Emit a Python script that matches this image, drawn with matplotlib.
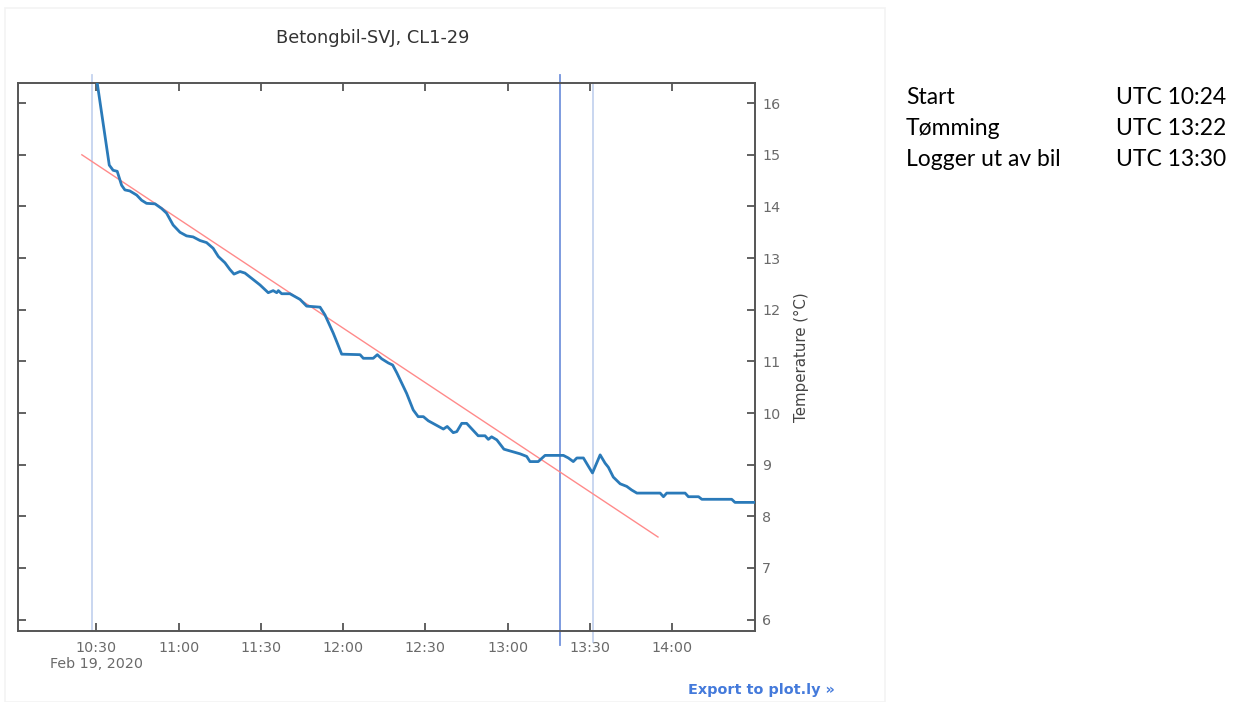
from datetime import datetime, timedelta
import matplotlib
matplotlib.use("Agg")
import matplotlib.pyplot as plt
from matplotlib.patches import Rectangle

day = datetime(2020, 2, 19, 10, 0)

# logger readings, minutes after 10:00 UTC
minutes = [30.0, 34.7, 36.1, 37.6, 39.2, 40.4, 42.2, 44.7, 46.5, 48.3, 51.4, 53.8,
           55.6, 58.0, 60.5, 62.9, 65.3, 67.8, 70.2, 72.6, 74.5, 76.9, 78.7, 80.2,
           82.4, 84.2, 86.6, 89.7, 92.7, 94.5, 95.8, 96.4, 97.6, 100.6, 104.3, 106.7,
           111.6, 113.4, 116.4, 117.7, 119.5, 126.2, 127.4, 131.0, 132.5, 134.1, 136.5,
           138.1, 139.6, 143.2, 145.6, 147.4, 149.3, 151.1, 156.6, 158.0, 160.2, 161.5,
           163.3, 165.1, 169.3, 171.8, 173.0, 174.2, 176.1, 178.7, 184.6, 187.0, 188.2,
           191.2, 193.7, 200.4, 202.2, 204.0, 205.3, 207.7, 209.5, 211.0, 213.8, 215.6,
           216.8, 218.6, 221.1, 223.5, 225.3, 227.2, 235.7, 236.9, 238.1, 244.8, 246.0,
           249.7, 250.9, 261.8, 263.0, 270.5]
temperature = [16.5, 14.80, 14.70, 14.68, 14.41, 14.32, 14.30, 14.22, 14.12, 14.06, 14.05, 13.96,
               13.87, 13.64, 13.50, 13.43, 13.41, 13.34, 13.30, 13.19, 13.03, 12.91, 12.78, 12.69,
               12.74, 12.71, 12.61, 12.48, 12.33, 12.37, 12.33, 12.37, 12.31, 12.31, 12.20, 12.07,
               12.05, 11.90, 11.55, 11.38, 11.14, 11.13, 11.06, 11.06, 11.13, 11.05, 10.97,
               10.93, 10.78, 10.38, 10.06, 9.93, 9.93, 9.85, 9.69, 9.74, 9.62, 9.64,
               9.80, 9.80, 9.56, 9.56, 9.49, 9.54, 9.48, 9.30, 9.21, 9.16, 9.06,
               9.06, 9.18, 9.18, 9.13, 9.06, 9.13, 9.13, 8.97, 8.84, 9.19, 9.03,
               8.95, 8.76, 8.63, 8.58, 8.51, 8.45, 8.45, 8.38, 8.45, 8.45, 8.38,
               8.38, 8.33, 8.33, 8.27, 8.27]

# linear cooling trend
trend_minutes = [24.7, 234.9]
trend_temp = [15.0, 7.6]

# event markers: start, emptying, logger removed
marker_minutes = [28.3, 199.2, 211.3]
marker_colors = ["#c5d3ef", "#7393dc", "#c5d3ef"]
marker_extent = [(0.0, 1.015), (-0.025, 1.015), (-0.02, 1.0)]

tick_minutes = [30, 60, 90, 120, 150, 180, 210, 240]
tick_labels = ["10:30\nFeb 19, 2020", "11:00", "11:30", "12:00", "12:30", "13:00", "13:30", "14:00"]

events = ["Start", "Tømming", "Logger ut av bil"]
event_times = ["UTC 10:24", "UTC 13:22", "UTC 13:30"]


def t(m):
    return day + timedelta(minutes=m)


fig = plt.figure(figsize=(12.41, 7.02), dpi=100)
fig.patches.append(Rectangle((5 / 1241, 0), 880 / 1241, 694 / 702, transform=fig.transFigure,
                             fill=False, edgecolor="#f3f3f3", linewidth=1.2))

ax = fig.add_axes([18 / 1241, 71 / 702, 737 / 1241, 548 / 702])

for m, c, (y0, y1) in zip(marker_minutes, marker_colors, marker_extent):
    ax.axvline(t(m), ymin=y0, ymax=y1, color=c, linewidth=1.3, clip_on=False, zorder=1)

ax.plot([t(m) for m in trend_minutes], trend_temp, color="#ff8a8a", linewidth=1.0, zorder=2)
ax.plot([t(m) for m in minutes], temperature, color="#2a7ab9", linewidth=2.0,
        solid_joinstyle="round", zorder=3)

ax.set_xlim(t(1.4), t(270.3))
ax.set_ylim(5.78, 16.39)
ax.set_xticks([t(m) for m in tick_minutes], labels=tick_labels)
ax.set_yticks(range(6, 17))

ax.tick_params(direction="in", top=True, left=True, right=True, bottom=True,
               labelleft=False, labelright=True, length=6, width=1.3,
               color="#555555", labelcolor="#6a6a6a", labelsize=10.3, pad=5)
ax.tick_params(axis="x", pad=7)
for s in ax.spines.values():
    s.set_color("#555555")
    s.set_linewidth(1.4)

ax.yaxis.set_label_position("right")
ax.set_ylabel("Temperature (°C)", color="#444444", fontsize=10.8, labelpad=10)

fig.text(373 / 1241, 1 - 38 / 702, "Betongbil-SVJ, CL1-29", ha="center", va="center",
         fontsize=12.8, color="#333333")
fig.text(835 / 1241, 1 - 690 / 702, "Export to plot.ly »", ha="right", va="center",
         fontsize=10.4, color="#447adb", fontweight="bold")

for i, (name, when) in enumerate(zip(events, event_times)):
    y = 1 - (97 + 31.5 * i) / 702
    fig.text(906 / 1241, y, name, ha="left", va="center", fontsize=16.5, family="Lato")
    fig.text(1116 / 1241, y, when, ha="left", va="center", fontsize=16.5, family="Lato")

fig.savefig("out.png", dpi=100)
